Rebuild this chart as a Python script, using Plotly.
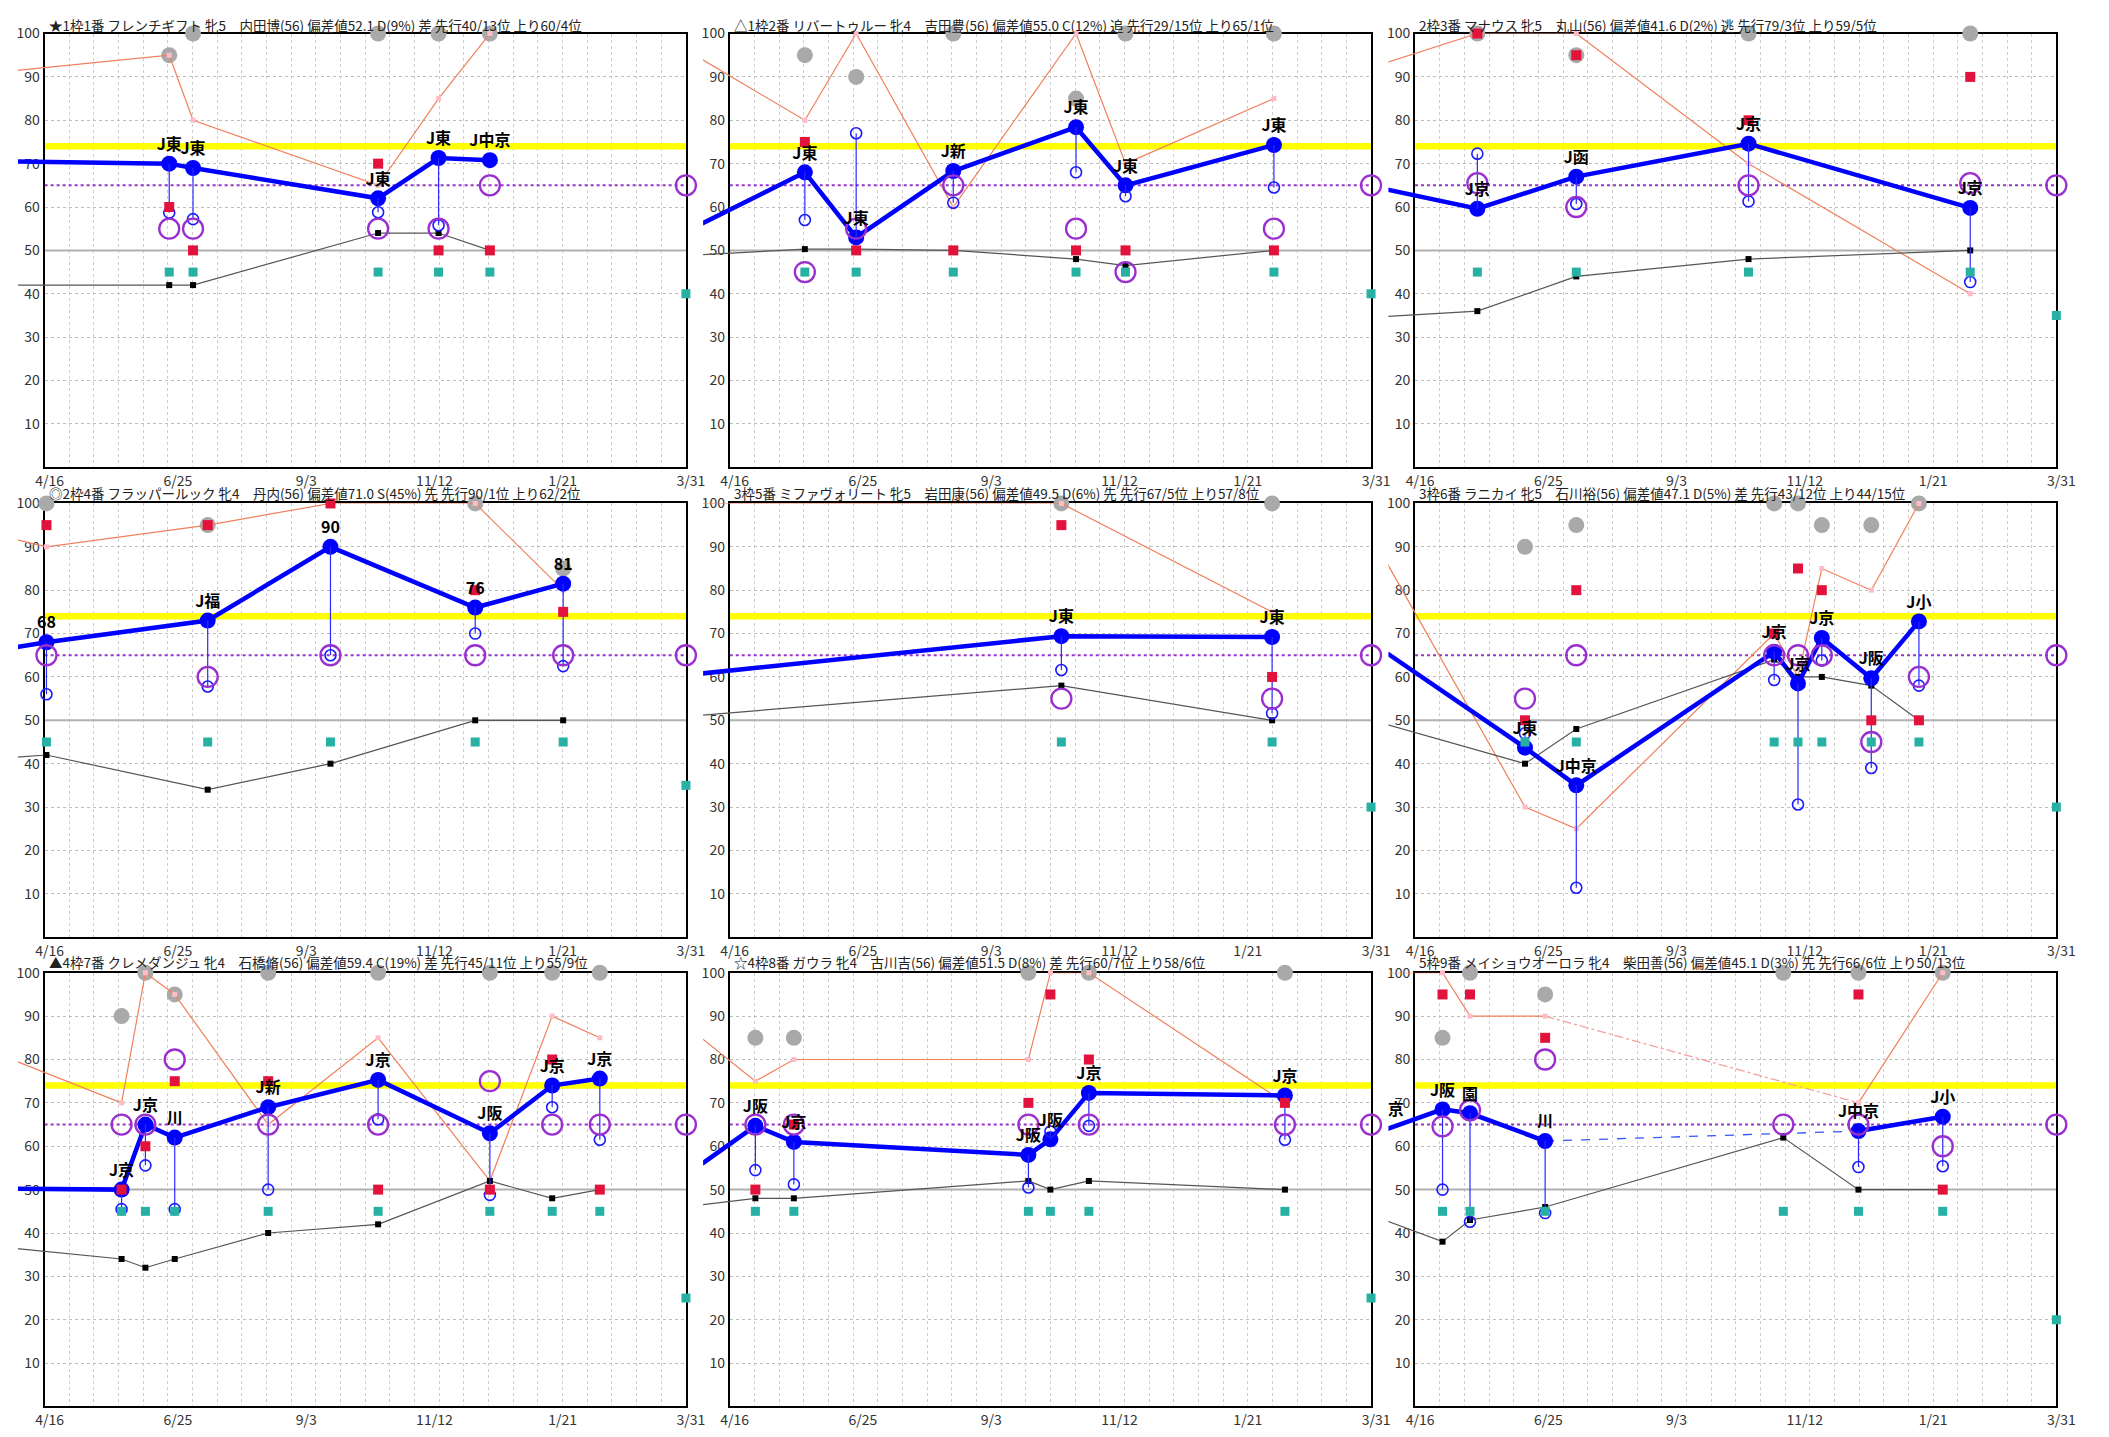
import plotly.graph_objects as go
from datetime import datetime, timedelta

# ---------------- data ----------------
START = "2023-04-16"
END = "2024-03-31"
EDGE_DATE = "2023-04-01"          # previous race (outside the window)
EDGE_LABEL_DATE = "2023-04-03"
X_TICKVALS = ["2023-04-16", "2023-06-25", "2023-09-03", "2023-11-12", "2024-01-21", "2024-03-31"]
X_TICKTEXT = ["4/16", "6/25", "9/3", "11/12", "1/21", "3/31"]
Y_TICKVALS = [10, 20, 30, 40, 50, 60, 70, 80, 90, 100]
YELLOW_LEVEL = 74
RING_LEVEL = 65
MID_LEVEL = 50
END_RING = 65

TITLES = [
    "★1枠1番 フレンチギフト 牝5　内田博(56) 偏差値52.1 D(9%) 差 先行40/13位 上り60/4位",
    "△1枠2番 リバートゥルー 牝4　吉田豊(56) 偏差値55.0 C(12%) 追 先行29/15位 上り65/1位",
    "2枠3番 マナウス 牝5　丸山(56) 偏差値41.6 D(2%) 逃 先行79/3位 上り59/5位",
    "◎2枠4番 フラッパールック 牝4　丹内(56) 偏差値71.0 S(45%) 先 先行90/1位 上り62/2位",
    "3枠5番 ミファヴォリート 牝5　岩田康(56) 偏差値49.5 D(6%) 先 先行67/5位 上り57/8位",
    "3枠6番 ラニカイ 牝5　石川裕(56) 偏差値47.1 D(5%) 差 先行43/12位 上り44/15位",
    "▲4枠7番 クレメダンジュ 牝4　石橋脩(56) 偏差値59.4 C(19%) 差 先行45/11位 上り55/9位",
    "☆4枠8番 ガウラ 牝4　古川吉(56) 偏差値51.5 D(8%) 差 先行60/7位 上り58/6位",
    "5枠9番 メイショウオーロラ 牝4　柴田善(56) 偏差値45.1 D(3%) 先 先行66/6位 上り50/13位",
]
END_TEAL = [40, 40, 35, 35, 30, 30, 25, 25, 20]
EDGE_LABELS = ["", "", "", "", "", "", "", "", "J京"]

# edge values = [index, black, orange] of the previous race
H1_DATES = ["2023-06-23", "2023-07-06", "2023-10-15", "2023-11-17", "2023-12-15"]
H1_INDEX = [70, 69, 62, 71.3, 70.8]
H1_LABEL = ["J東", "J東", "J東", "J東", "J中京"]
H1_DROP = [58.7, 57.2, 58.8, 55.8, None]
H1_RING = [55, 55, 55, 55, 65]
H1_RED = [60, 50, 70, 50, 50]
H1_TEAL = [45, 45, 45, 45, 45]
H1_BLACK = [42, 42, 54, 54, 50]
H1_GRAY = [95, 100, 100, 100, 100]
H1_ORANGE = [95, 80, 65, 85, 100]
H1_EDGE = [70.5, 42, 91.5]

H2_DATES = ["2023-05-27", "2023-06-24", "2023-08-16", "2023-10-22", "2023-11-18", "2024-02-07"]
H2_INDEX = [68, 53, 68.3, 78.4, 65, 74.3]
H2_LABEL = ["J東", "J東", "J新", "J東", "J東", "J東"]
H2_DROP = [57, 77, 61, 68, 62.5, 64.5]
H2_RING = [45, 55, 65, 55, 45, 55]
H2_RED = [75, 50, 50, 50, 50, 50]
H2_TEAL = [45, 45, 45, 45, 45, 45]
H2_BLACK = [50.3, 50.3, 50, 48, 46.5, 50]
H2_GRAY = [95, 90, 100, 85, 100, 100]
H2_ORANGE = [80, 100, 60, 100, 70, 85]
H2_EDGE = [56.2, 49, 94]

H3_DATES = ["2023-05-20", "2023-07-13", "2023-10-15", "2024-02-13"]
H3_INDEX = [59.6, 67, 74.6, 59.8]
H3_LABEL = ["J京", "J函", "J京", "J京"]
H3_DROP = [72.3, 60.7, 61.3, 42.7]
H3_RING = [65.5, 60, 65, 65.5]
H3_RED = [100, 95, 80, 90]
H3_TEAL = [45, 45, 45, 45]
H3_BLACK = [36, 44, 48, 50]
H3_GRAY = [100, 95, 100, 100]
H3_ORANGE = [100, 100, 70, 40]
H3_EDGE = [64, 34.8, 93.4]

H4_DATES = ["2023-04-17", "2023-07-14", "2023-09-19", "2023-12-07", "2024-01-24"]
H4_INDEX = [68, 73, 90, 76, 81.5]
H4_LABEL = ["68", "J福", "90", "76", "81"]
H4_DROP = [56, 57.8, 65, 70, 62.5]
H4_RING = [65, 60, 65, 65, 65]
H4_RED = [95, 95, 100, 80, 75]
H4_TEAL = [45, 45, 45, 45, 45]
H4_BLACK = [42, 34, 40, 50, 50]
H4_GRAY = [100, 95, None, 100, 85]
H4_ORANGE = [90, 95, 100, 100, 80]
H4_EDGE = [66.9, 41.5, 91.6]

H5_DATES = ["2023-10-14", "2024-02-06"]
H5_INDEX = [69.4, 69.2]
H5_LABEL = ["J東", "J東"]
H5_DROP = [61.6, 51.6]
H5_RING = [55, 55]
H5_RED = [95, 60]
H5_TEAL = [45, 45]
H5_BLACK = [58, 50]
H5_GRAY = [100, 100]
H5_ORANGE = [100, 75]
H5_EDGE = [60.8, 51.2, 100]

H6_DATES = ["2023-06-15", "2023-07-13", "2023-10-29", "2023-11-11", "2023-11-24", "2023-12-21", "2024-01-16"]
H6_INDEX = [43.7, 35, 65.8, 58.5, 69, 59.7, 72.8]
H6_LABEL = ["J東", "J中京", "J京", "J京", "J京", "J阪", "J小"]
H6_DROP = [47, 11.4, 59.3, 30.6, 63.8, 39, 58]
H6_RING = [55, 65, 65, 65, 65, 45, 60]
H6_RED = [50, 80, 70, 85, 80, 50, 50]
H6_TEAL = [45, 45, 45, 45, 45, 45, 45]
H6_BLACK = [40, 48, 64, 60, 60, 58, 50]
H6_GRAY = [90, 95, 100, 100, 95, 95, 100]
H6_ORANGE = [30, 25, 70, 60, 85, 80, 100]
H6_EDGE = [65.4, 49, 86]

H7_DATES = ["2023-05-28", "2023-06-10", "2023-06-26", "2023-08-16", "2023-10-15", "2023-12-15", "2024-01-18", "2024-02-13"]
H7_INDEX = [50, 65, 62, 69, 75.3, 63, 74, 75.6]
H7_LABEL = ["J京", "J京", "川", "J新", "J京", "J阪", "J京", "J京"]
H7_DROP = [45.5, 55.6, 45.5, 50, 66.2, 48.8, 69, 61.5]
H7_RING = [65, 65, 80, 65, 65, 75, 65, 65]
H7_RED = [50, 60, 75, 75, 50, 50, 80, 50]
H7_TEAL = [45, 45, 45, 45, 45, 45, 45, 45]
H7_BLACK = [34, 32, 34, 40, 42, 52, 48, 50]
H7_GRAY = [90, 100, 95, 100, 100, 100, 100, 100]
H7_ORANGE = [70, 100, 95, 65, 85, 52, 90, 85]
H7_EDGE = [50.2, 36.4, 79.5]

H8_DATES = ["2023-04-30", "2023-05-21", "2023-09-26", "2023-10-08", "2023-10-29", "2024-02-13"]
H8_INDEX = [64.7, 61, 58, 61.6, 72.3, 71.7]
H8_LABEL = ["J阪", "J京", "J阪", "J阪", "J京", "J京"]
H8_DROP = [54.5, 51.2, 50.5, 63.4, 64.7, 61.5]
H8_RING = [65, 65, 65, None, 65, 65]
H8_RED = [50, 65, 70, 95, 80, 70]
H8_TEAL = [45, 45, 45, 45, 45, 45]
H8_BLACK = [48, 48, 52, 50, 52, 50]
H8_GRAY = [85, 85, 100, None, 100, 100]
H8_ORANGE = [75, 80, 80, 100, 100, 70]
H8_EDGE = [56, 46.5, 84.8]

H9_DATES = ["2023-05-01", "2023-05-16", "2023-06-26", "2023-11-03", "2023-12-14", "2024-01-29"]
H9_INDEX = [68.5, 67.6, 61.2, None, 63.5, 66.8]
H9_LABEL = ["J阪", "園", "川", "", "J中京", "J小"]
H9_DROP = [50, 42.6, 44.6, None, 55.2, 55.4]
H9_RING = [64.6, 68.3, 80, 65, 65, 60]
H9_RED = [95, 95, 85, None, 95, 50]
H9_TEAL = [45, 45, 45, 45, 45, 45]
H9_BLACK = [38, 43, 46, 62, 50, 50]
H9_GRAY = [85, 100, 95, 100, 100, 100]
H9_ORANGE = [100, 90, 90, None, 70, 100]
H9_EDGE = [64, 42.7, 100]


def horse(d, idx, lbl, drop, ring, red, teal, black, gray, orange, edge):
    return dict(dates=d, index=idx, label=lbl, drop=drop, ring=ring, red=red, teal=teal,
                black=black, gray=gray, orange=orange, edge=edge)


HORSES = [
    horse(H1_DATES, H1_INDEX, H1_LABEL, H1_DROP, H1_RING, H1_RED, H1_TEAL, H1_BLACK, H1_GRAY, H1_ORANGE, H1_EDGE),
    horse(H2_DATES, H2_INDEX, H2_LABEL, H2_DROP, H2_RING, H2_RED, H2_TEAL, H2_BLACK, H2_GRAY, H2_ORANGE, H2_EDGE),
    horse(H3_DATES, H3_INDEX, H3_LABEL, H3_DROP, H3_RING, H3_RED, H3_TEAL, H3_BLACK, H3_GRAY, H3_ORANGE, H3_EDGE),
    horse(H4_DATES, H4_INDEX, H4_LABEL, H4_DROP, H4_RING, H4_RED, H4_TEAL, H4_BLACK, H4_GRAY, H4_ORANGE, H4_EDGE),
    horse(H5_DATES, H5_INDEX, H5_LABEL, H5_DROP, H5_RING, H5_RED, H5_TEAL, H5_BLACK, H5_GRAY, H5_ORANGE, H5_EDGE),
    horse(H6_DATES, H6_INDEX, H6_LABEL, H6_DROP, H6_RING, H6_RED, H6_TEAL, H6_BLACK, H6_GRAY, H6_ORANGE, H6_EDGE),
    horse(H7_DATES, H7_INDEX, H7_LABEL, H7_DROP, H7_RING, H7_RED, H7_TEAL, H7_BLACK, H7_GRAY, H7_ORANGE, H7_EDGE),
    horse(H8_DATES, H8_INDEX, H8_LABEL, H8_DROP, H8_RING, H8_RED, H8_TEAL, H8_BLACK, H8_GRAY, H8_ORANGE, H8_EDGE),
    horse(H9_DATES, H9_INDEX, H9_LABEL, H9_DROP, H9_RING, H9_RED, H9_TEAL, H9_BLACK, H9_GRAY, H9_ORANGE, H9_EDGE),
]

# ---------------- layout geometry (pixels) ----------------
PAGE_W, PAGE_H = 2109, 1437
BODY_MARGIN = 8                       # default page margin around the figure
W, H = PAGE_W - 2 * BODY_MARGIN, PAGE_H - 2 * BODY_MARGIN
COL_LEFT = [36 - BODY_MARGIN, 730.4 - BODY_MARGIN, 1425 - BODY_MARGIN]
ROW_TOP = [22.7 - BODY_MARGIN, 498.3 - BODY_MARGIN, 973.3 - BODY_MARGIN]
TITLE_Y = [6.5, 487.8 - BODY_MARGIN, 962.8 - BODY_MARGIN]
PLOT_W, PLOT_H = 650, 439
EXT_PX = 27
FONT = "Noto Sans CJK JP, Noto Sans, sans-serif"

start_dt = datetime.strptime(START, "%Y-%m-%d")
end_dt = datetime.strptime(END, "%Y-%m-%d")
span_days = (end_dt - start_dt).days
ext_start = (start_dt - timedelta(days=EXT_PX / PLOT_W * span_days)).strftime("%Y-%m-%d %H:%M:%S")
minor_dtick = span_days / 26 * 86400000


def xr(n):
    return "x" if n == 1 else f"x{n}"


def yr(n):
    return "y" if n == 1 else f"y{n}"


def xa(n):
    return "xaxis" if n == 1 else f"xaxis{n}"


def ya(n):
    return "yaxis" if n == 1 else f"yaxis{n}"


def pts(dates, vals):
    xs, ys = [], []
    for d, v in zip(dates, vals):
        if v is not None:
            xs.append(d)
            ys.append(v)
    return xs, ys


def bridges(dates, vals):
    xs, ys = [], []
    for i, v in enumerate(vals):
        if v is None and 0 < i < len(vals) - 1:
            j = i - 1
            k = i + 1
            while j >= 0 and vals[j] is None:
                j -= 1
            while k < len(vals) and vals[k] is None:
                k += 1
            if j >= 0 and k < len(vals):
                xs += [dates[j], dates[k], None]
                ys += [vals[j], vals[k], None]
    return xs, ys


fig = go.Figure()
layout = dict(width=W, height=H, margin=dict(l=0, r=0, t=0, b=0), autosize=False,
              paper_bgcolor="white", plot_bgcolor="rgba(0,0,0,0)", showlegend=False,
              font=dict(family=FONT, color="#333"), annotations=[])

LABEL_FONT = dict(family=FONT, size=16, color="black", weight="bold")

for p, hz in enumerate(HORSES):
    r, c = divmod(p, 3)
    L, T = COL_LEFT[c], ROW_TOP[r]
    a, o = p + 1, p + 10
    ydom = [1 - (T + PLOT_H) / H, 1 - T / H]
    layout[xa(a)] = dict(domain=[L / W, (L + PLOT_W) / W], range=[START, END], type="date",
                         anchor=yr(a), tickmode="array", tickvals=X_TICKVALS, ticktext=X_TICKTEXT,
                         showgrid=False, ticks="", showline=True, mirror=True, linecolor="black",
                         linewidth=2, zeroline=False, tickfont=dict(size=14, color="#333"),
                         ticklabelshift=5, fixedrange=True,
                         minor=dict(tickmode="linear", tick0=START, dtick=minor_dtick, showgrid=True,
                                    gridcolor="#cdcdcd", griddash="dot", gridwidth=1, ticks=""))
    layout[ya(a)] = dict(domain=ydom, range=[0, 100], anchor=xr(a), tickmode="array",
                         tickvals=Y_TICKVALS, showgrid=True, gridcolor="#bdbdbd", griddash="dot",
                         gridwidth=1, showline=True, mirror=True, linecolor="black", linewidth=2,
                         zeroline=False, ticks="", tickfont=dict(size=14, color="#333"), fixedrange=True)
    layout[xa(o)] = dict(domain=[(L - EXT_PX) / W, (L + PLOT_W) / W], range=[ext_start, END],
                         type="date", anchor=yr(o), visible=False, showgrid=False, fixedrange=True)
    layout[ya(o)] = dict(domain=ydom, range=[0, 100], anchor=xr(o), visible=False,
                         showgrid=False, fixedrange=True)

    layout["annotations"].append(dict(
        text=TITLES[p], xref="paper", yref="paper", x=(L + 2) / W, y=1 - TITLE_Y[r] / H,
        xanchor="left", yanchor="middle", showarrow=False,
        font=dict(family=FONT, size=13.5, color="#222")))

    common_main = dict(xaxis=xr(a), yaxis=yr(a), hoverinfo="skip", showlegend=False)
    common = dict(xaxis=xr(o), yaxis=yr(o), hoverinfo="skip", showlegend=False)

    # reference levels (main subplot)
    fig.add_trace(go.Scatter(x=[START, END], y=[MID_LEVEL, MID_LEVEL], mode="lines",
                             line=dict(color="#b0b0b0", width=2), **common_main))
    fig.add_trace(go.Scatter(x=[START, END], y=[RING_LEVEL, RING_LEVEL], mode="lines",
                             line=dict(color="#9933cc", width=2, dash="dot"), **common_main))
    fig.add_trace(go.Scatter(x=[START, END], y=[YELLOW_LEVEL, YELLOW_LEVEL], mode="lines",
                             line=dict(color="#ffff00", width=6.5), **common_main))

    d = hz["dates"]
    e_idx, e_blk, e_org = hz["edge"]

    # gray circles
    gx, gy = pts(d, hz["gray"])
    fig.add_trace(go.Scatter(x=gx, y=gy, mode="markers", cliponaxis=False,
                             marker=dict(size=16, color="#a9a9a9"), **common))
    # orange line
    fig.add_trace(go.Scatter(x=[EDGE_DATE] + d, y=[e_org] + hz["orange"], mode="lines",
                             connectgaps=False, line=dict(color="#f0805c", width=1.2), **common))
    bx, by = bridges(d, hz["orange"])
    if bx:
        fig.add_trace(go.Scatter(x=bx, y=by, mode="lines",
                                 line=dict(color="#f4a0a0", width=1.3, dash="dashdot"), **common))
    ox, oy = pts(d, hz["orange"])
    fig.add_trace(go.Scatter(x=ox, y=oy, mode="markers", cliponaxis=False,
                             marker=dict(size=5, symbol="square", color="#ffbcc6"), **common))
    # black line
    fig.add_trace(go.Scatter(x=[EDGE_DATE] + d, y=[e_blk] + hz["black"], mode="lines",
                             line=dict(color="#555555", width=1.2), **common))
    kx, ky = pts(d, hz["black"])
    fig.add_trace(go.Scatter(x=kx, y=ky, mode="markers", cliponaxis=False,
                             marker=dict(size=6, symbol="square", color="black"), **common))
    # main index line
    fig.add_trace(go.Scatter(x=[EDGE_DATE] + d, y=[e_idx] + hz["index"], mode="lines",
                             connectgaps=False, line=dict(color="#0000ff", width=4.5), **common))
    bx, by = bridges(d, hz["index"])
    if bx:
        fig.add_trace(go.Scatter(x=bx, y=by, mode="lines",
                                 line=dict(color="#3355ff", width=1.3, dash="dash"), **common))
    ix, iy = pts(d, hz["index"])
    fig.add_trace(go.Scatter(x=ix, y=iy, mode="markers", cliponaxis=False,
                             marker=dict(size=16, color="#0000ff"), **common))
    # drop lines + hollow circles
    dx, dy, hx, hy = [], [], [], []
    for dt_, v, w in zip(d, hz["index"], hz["drop"]):
        if v is not None and w is not None:
            dx += [dt_, dt_, None]
            dy += [v, w, None]
            hx.append(dt_)
            hy.append(w)
    fig.add_trace(go.Scatter(x=dx, y=dy, mode="lines", line=dict(color="#2a2aff", width=1.2), **common))
    fig.add_trace(go.Scatter(x=hx, y=hy, mode="markers", cliponaxis=False,
                             marker=dict(size=11, symbol="circle-open", color="#1a1aff",
                                         line=dict(width=1.6)), **common))
    # purple rings
    rx, ry = pts(d + [END], hz["ring"] + [END_RING])
    fig.add_trace(go.Scatter(x=rx, y=ry, mode="markers", cliponaxis=False,
                             marker=dict(size=20, symbol="circle-open", color="#9a2fcf",
                                         line=dict(width=2.3)), **common))
    # red squares
    qx, qy = pts(d, hz["red"])
    fig.add_trace(go.Scatter(x=qx, y=qy, mode="markers", cliponaxis=False,
                             marker=dict(size=10, symbol="square", color="#e3123d"), **common))
    # teal squares
    tx, ty = pts(d + [END], hz["teal"] + [END_TEAL[p]])
    fig.add_trace(go.Scatter(x=tx, y=ty, mode="markers", cliponaxis=False,
                             marker=dict(size=9, symbol="square", color="#27b1a4"), **common))
    # labels
    lx, ly, lt = [], [], []
    for dt_, v, t in zip(d, hz["index"], hz["label"]):
        if v is not None and t:
            lx.append(dt_)
            ly.append(v)
            lt.append(t)
    fig.add_trace(go.Scatter(x=lx, y=ly, text=lt, mode="markers+text", textposition="top center",
                             cliponaxis=False, marker=dict(size=14, color="rgba(0,0,0,0)"),
                             textfont=LABEL_FONT, **common))
    if EDGE_LABELS[p]:
        fig.add_trace(go.Scatter(x=[EDGE_LABEL_DATE], y=[e_idx], text=[EDGE_LABELS[p]],
                                 mode="markers+text", textposition="top center", cliponaxis=True,
                                 marker=dict(size=14, color="rgba(0,0,0,0)"),
                                 textfont=LABEL_FONT, **common))

fig.update_layout(**layout)
fig.write_html("out.html", config={"displayModeBar": False})
